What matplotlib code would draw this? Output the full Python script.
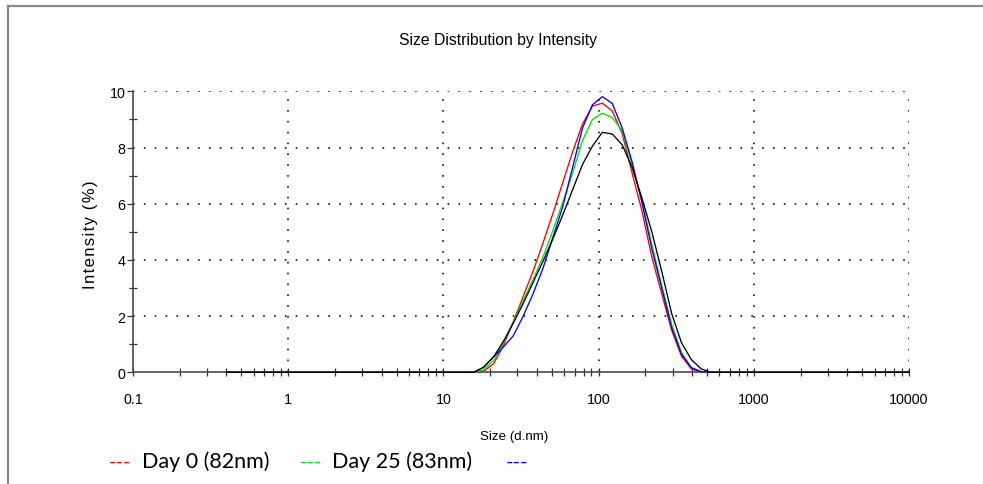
import matplotlib
matplotlib.use("Agg")
import matplotlib.pyplot as plt
from matplotlib.lines import Line2D
from matplotlib.ticker import LogLocator, NullFormatter, FixedLocator, FixedFormatter

plt.rcParams['font.family'] = ['Liberation Sans', 'DejaVu Sans']

# Size classes (d.nm) of the distribution
sizes = [0.4000, 0.4632, 0.5365, 0.6213, 0.7195, 0.8332, 0.9649, 1.117, 1.294, 1.499,
         1.736, 2.010, 2.328, 2.696, 3.122, 3.615, 4.187, 4.849, 5.615, 6.503,
         7.531, 8.721, 10.10, 11.70, 13.54, 15.69, 18.17, 21.04, 24.36, 28.21,
         32.67, 37.84, 43.82, 50.75, 58.77, 68.06, 78.82, 91.28, 105.7, 122.4,
         141.8, 164.2, 190.1, 220.2, 255.0, 295.3, 342.0, 396.1, 458.7, 531.2,
         615.1, 712.4, 825.0, 955.4, 1106, 1281, 1484, 1718, 1990, 2305,
         2669, 3091, 3580, 4145, 4801, 5560, 6439, 7456, 8635, 10000]

# Intensity (%) per size class; classes below 18.17 nm and above 531.2 nm are zero
zeros_low = [0.0] * 26
red_vals = zeros_low + [0.04, 0.30, 0.95, 1.80, 2.70, 3.60, 4.60, 5.65, 6.75, 7.85,
                        8.84, 9.47, 9.58, 9.30, 8.50, 7.10, 5.75, 4.10, 2.80, 1.50,
                        0.57, 0.12, 0.0, 0.0] + [0.0] * 20
green_vals = zeros_low + [0.08, 0.42, 1.05, 1.80, 2.55, 3.30, 4.10, 5.05, 6.05, 7.10,
                          8.25, 9.00, 9.22, 9.07, 8.60, 7.40, 6.10, 4.55, 3.10, 1.72,
                          0.70, 0.17, 0.02, 0.0] + [0.0] * 20
blue_vals = zeros_low + [0.18, 0.55, 0.90, 1.30, 2.00, 2.80, 3.70, 4.80, 5.90, 7.30,
                         8.70, 9.52, 9.81, 9.57, 8.70, 7.50, 6.05, 4.40, 3.00, 1.60,
                         0.65, 0.16, 0.02, 0.0] + [0.0] * 20
black_vals = zeros_low + [0.18, 0.55, 1.10, 1.75, 2.45, 3.20, 3.95, 4.75, 5.60, 6.50,
                          7.40, 8.05, 8.54, 8.48, 8.10, 7.30, 6.20, 5.00, 3.60, 2.10,
                          1.05, 0.45, 0.12, 0.0] + [0.0] * 20

series = [
    (red_vals, '#ff0000'),
    (green_vals, '#00e600'),
    (blue_vals, '#0000ff'),
    (black_vals, '#000000'),
]

x_ticks = [0.1, 1, 10, 100, 1000, 10000]
x_tick_labels = ['0.1', '1', '10', '100', '1000', '10000']
y_ticks = [0, 2, 4, 6, 8, 10]

legend_items = [('---', '#ff0000', 'Day 0 (82nm)'),
                ('---', '#00e600', 'Day 25 (83nm)'),
                ('---', '#0000ff', '')]

W, H = 983, 485
fig = plt.figure(figsize=(W / 100, H / 100), dpi=100)
fig.patch.set_facecolor('white')

ax_l, ax_r, ax_t, ax_b = 133, 909, 92.3, 373.3
ax = fig.add_axes([ax_l / W, 1 - ax_b / H, (ax_r - ax_l) / W, (ax_b - ax_t) / H])

for vals, col in series:
    ax.plot(sizes, vals, color=col, lw=0.95, zorder=3, clip_on=False)

ax.set_xscale('log')
ax.set_xlim(0.1, 10000)
ax.set_ylim(0, 10)

ax.xaxis.set_major_locator(FixedLocator(x_ticks))
ax.xaxis.set_major_formatter(FixedFormatter(x_tick_labels))
ax.xaxis.set_minor_locator(LogLocator(base=10, subs=range(2, 10), numticks=20))
ax.xaxis.set_minor_formatter(NullFormatter())
ax.set_yticks(y_ticks)
ax.set_yticks([1, 3, 5, 7, 9], minor=True)

for s in ['top', 'right']:
    ax.spines[s].set_visible(False)
for s in ['left', 'bottom']:
    ax.spines[s].set_color('#4a4a4a')
    ax.spines[s].set_linewidth(1.2)

ax.tick_params(axis='x', which='both', direction='inout', length=6, width=0.9,
               color='#333333', labelsize=10.3, pad=11)
ax.tick_params(axis='y', which='major', direction='out', length=4, width=0.9,
               color='#333333', labelsize=10.3, pad=1.5)
ax.tick_params(axis='y', which='minor', direction='inout', length=6, width=0.9,
               color='#333333')

dot = (0, (1.1, 6))
for xv in x_ticks[1:]:
    ax.axvline(xv, color='black', lw=1.1, linestyle=dot, zorder=1)
for yv in y_ticks[1:]:
    ax.axhline(yv, color='black', lw=1.1, linestyle=dot, zorder=1)

fig.text(498 / W, 1 - 41 / H, 'Size Distribution by Intensity', ha='center',
         va='center', fontsize=11.3)
fig.text(514 / W, 1 - 437 / H, 'Size (d.nm)', ha='center', va='center', fontsize=9.6)
ylab = '\u200a'.join('Intensity') + '\u2009\u2009' + '\u200a'.join('(%)')
fig.text(91 / W, 1 - 235 / H, ylab, ha='center', va='center', rotation=90,
         fontsize=12)

# Page frame lines
fig.add_artist(Line2D([8 / W, 1], [1 - 6.5 / H, 1 - 6.5 / H], color='#8a8a8a', lw=1.6))
fig.add_artist(Line2D([8 / W, 8 / W], [0, 1 - 6.5 / H], color='#8a8a8a', lw=1.6))

# Legend row
dash_x = [109, 300, 506]
label_x = [142, 332, 0]
for (mark, col, lab), dx, lx in zip(legend_items, dash_x, label_x):
    fig.text(dx / W, 1 - 462 / H, mark, color=col, ha='left', va='center',
             fontsize=14.5, family=['Lato', 'DejaVu Sans'])
    if lab:
        fig.text(lx / W, 1 - 462 / H, lab, color='black', ha='left', va='center',
                 fontsize=15.5, family=['Lato', 'DejaVu Sans'])

fig.savefig('out.png', dpi=100)
